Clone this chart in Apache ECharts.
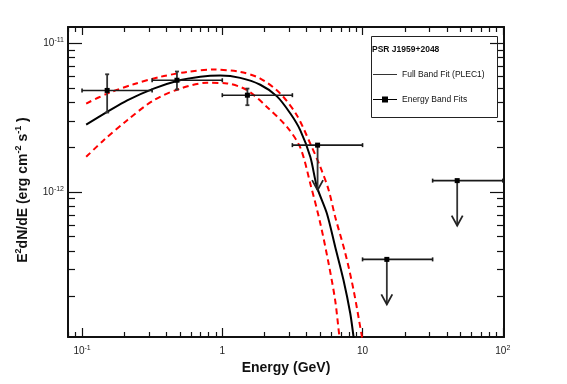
<!DOCTYPE html>
<html><head><meta charset="utf-8">
<script src="https://cdn.jsdelivr.net/npm/echarts@6/dist/echarts.min.js"></script>
<style>html,body{margin:0;padding:0;background:#fff}#c{width:567px;height:384px}</style>
</head><body><div id="c"></div>
<script>
// ---- tick values ----
const xMajorTicks = [0.1, 1, 10, 100];
const xMinorTicks = [0.08, 0.09, 0.2, 0.3, 0.4, 0.5, 0.6, 0.7, 0.8, 0.9, 2, 3, 4, 5, 6, 7, 8, 9, 20, 30, 40, 50, 60, 70, 80, 90];
const yMajorTicks = [1e-12, 1e-11];
const yMinorTicks = [2e-13, 3e-13, 4e-13, 5e-13, 6e-13, 7e-13, 8e-13, 9e-13, 2e-12, 3e-12, 4e-12, 5e-12, 6e-12, 7e-12, 8e-12, 9e-12];

// ---- full band fit (PLEC1) ----
const fitEnergy = [0.107, 0.151, 0.21, 0.324, 0.475, 0.697, 0.968, 1.343, 1.866, 2.455, 3.05, 3.60, 4.24, 4.73, 5.57, 6.38, 7.32, 8.17, 8.63, 8.87];
const fitFlux = [2.83e-12, 3.44e-12, 4.12e-12, 4.94e-12, 5.56e-12, 5.93e-12, 6.04e-12, 5.83e-12, 5.24e-12, 4.38e-12, 3.37e-12, 2.59e-12, 1.72e-12, 1.08e-12, 7.16e-13, 4.28e-13, 2.55e-13, 1.53e-13, 1.06e-13, 8.7e-14];

// ---- upper / lower error band of the fit ----
const bandUpperEnergy = [0.107, 0.151, 0.233, 0.361, 0.560, 0.867, 1.343, 1.866, 2.59, 3.40, 4.24, 5.00, 5.73, 6.38, 7.54, 8.63, 9.91, 10.3];
const bandUpperFlux = [3.92e-12, 4.57e-12, 5.28e-12, 5.92e-12, 6.39e-12, 6.63e-12, 6.39e-12, 5.77e-12, 4.57e-12, 3.27e-12, 2.11e-12, 1.47e-12, 1.03e-12, 6.8e-13, 3.86e-13, 2.19e-13, 1.06e-13, 8.7e-14];
const bandLowerEnergy = [0.107, 0.1426, 0.21, 0.324, 0.502, 0.778, 1.08, 1.50, 2.08, 2.89, 3.60, 4.30, 5.00, 5.73, 6.38, 6.85, 7.11];
const bandLowerFlux = [1.72e-12, 2.22e-12, 3.03e-12, 4.12e-12, 4.94e-12, 5.40e-12, 5.35e-12, 4.82e-12, 3.72e-12, 2.73e-12, 1.98e-12, 1.08e-12, 6.14e-13, 3.30e-13, 1.87e-13, 1.06e-13, 8.7e-14];

// ---- energy band fits ----
const pointEnergy = [0.151, 0.475, 1.51, 4.78, 14.9, 47.3];
const pointELow = [0.1, 0.316, 1.0, 3.16, 10, 31.6];
const pointEHigh = [0.316, 1.0, 3.16, 10, 31.6, 100];
const pointFlux = [4.8e-12, 5.62e-12, 4.46e-12, 2.06e-12, 3.52e-13, 1.19e-12];
const pointFluxLow = [3.41e-12, 4.87e-12, 3.82e-12, 2.06e-12, 3.52e-13, 1.19e-12];
const pointFluxHigh = [6.16e-12, 6.43e-12, 4.94e-12, 2.06e-12, 3.52e-13, 1.19e-12];
const pointUpperLimit = [0, 0, 0, 1, 1, 1];

const X_MIN = 0.0794, X_MAX = 102;
const Y_MIN = 1.06e-13, Y_MAX = 1.28e-11;
const FONT = 'Liberation Sans';

function zip(a, b) { return a.map((v, i) => [v, b[i]]); }
const pointData = pointEnergy.map((e, i) => [e, pointFlux[i], pointELow[i], pointEHigh[i], pointFluxLow[i], pointFluxHigh[i], pointUpperLimit[i]]);

const richLabel = {
  b: { fontFamily: FONT, fontSize: 10, color: '#222', lineHeight: 13, verticalAlign: 'middle' },
  s: { fontFamily: FONT, fontSize: 7, color: '#222', lineHeight: 7, verticalAlign: 'top' }
};
function expLabel(v) {
  const p = Math.round(Math.log10(v));
  if (p === 0) return '{b|1}';
  if (p === 1) return '{b|10}';
  return '{b|10}{s|' + p + '}';
}

function logAxis(base, extra) {
  return Object.assign({
    type: 'log', logBase: 10, splitLine: { show: false }, minorTick: { show: false },
    axisLine: { show: false }, axisLabel: { show: false }
  }, base, extra);
}

const axisLineStyle = { show: true, onZero: false, lineStyle: { color: '#111', width: 2 } };
const tickStyle = { color: '#111', width: 1.2 };

const chart = echarts.init(document.getElementById('c'), null, { renderer: 'canvas' });
chart.setOption({
  animation: false,
  backgroundColor: '#fff',
  grid: { left: 68, right: 63, top: 27, bottom: 47 },
  xAxis: [
    logAxis({ min: X_MIN, max: X_MAX }, {
      position: 'bottom', axisLine: axisLineStyle,
      axisTick: { show: true, inside: true, length: 9, lineStyle: tickStyle, customValues: xMajorTicks },
      axisLabel: { show: true, margin: 8, customValues: xMajorTicks, formatter: expLabel, rich: richLabel },
      name: 'Energy (GeV)', nameLocation: 'middle', nameGap: 23,
      nameTextStyle: { fontFamily: FONT, fontSize: 14, fontWeight: 'bold', color: '#111' }
    }),
    logAxis({ min: X_MIN, max: X_MAX }, {
      position: 'bottom',
      axisTick: { show: true, inside: true, length: 5, lineStyle: tickStyle, customValues: xMinorTicks }
    }),
    logAxis({ min: X_MIN, max: X_MAX }, {
      position: 'top', axisLine: axisLineStyle,
      axisTick: { show: true, inside: true, length: 8, lineStyle: tickStyle, customValues: xMajorTicks }
    }),
    logAxis({ min: X_MIN, max: X_MAX }, {
      position: 'top',
      axisTick: { show: true, inside: true, length: 5, lineStyle: tickStyle, customValues: xMinorTicks }
    })
  ],
  yAxis: [
    logAxis({ min: Y_MIN, max: Y_MAX }, {
      position: 'left', axisLine: axisLineStyle,
      axisTick: { show: true, inside: true, length: 14, lineStyle: tickStyle, customValues: yMajorTicks },
      axisLabel: { show: true, margin: 4, customValues: yMajorTicks, formatter: expLabel, rich: richLabel },
      name: '{b|E}{s|2}{b|dN/dE (erg cm}{s|-2}{b| s}{s|-1}{b| )}', nameLocation: 'middle', nameGap: 36,
      nameTextStyle: {
        fontFamily: FONT, fontSize: 14, fontWeight: 'bold', color: '#111', padding: [0, 16, 0, 0],
        rich: {
          b: { fontFamily: FONT, fontSize: 14, fontWeight: 'bold', color: '#111', lineHeight: 18, verticalAlign: 'middle' },
          s: { fontFamily: FONT, fontSize: 9, fontWeight: 'bold', color: '#111', lineHeight: 9, verticalAlign: 'top' }
        }
      }
    }),
    logAxis({ min: Y_MIN, max: Y_MAX }, {
      position: 'left',
      axisTick: { show: true, inside: true, length: 7, lineStyle: tickStyle, customValues: yMinorTicks }
    }),
    logAxis({ min: Y_MIN, max: Y_MAX }, {
      position: 'right', axisLine: axisLineStyle,
      axisTick: { show: true, inside: true, length: 14, lineStyle: tickStyle, customValues: yMajorTicks }
    }),
    logAxis({ min: Y_MIN, max: Y_MAX }, {
      position: 'right',
      axisTick: { show: true, inside: true, length: 7, lineStyle: tickStyle, customValues: yMinorTicks }
    })
  ],
  legend: {
    orient: 'vertical', left: 373, top: 70, padding: 0, itemWidth: 24, itemHeight: 8, itemGap: 16,
    selectedMode: false,
    textStyle: { fontFamily: FONT, fontSize: 8.5, color: '#111' },
    data: [
      { name: 'Full Band Fit (PLEC1)', icon: 'path://M0,3.6H24V4.4H0Z', itemStyle: { color: '#000' } },
      { name: 'Energy Band Fits', icon: 'path://M0,3.5H24V4.5H0Z M9,1H15V7H9Z', itemStyle: { color: '#000' } }
    ]
  },
  graphic: [
    { type: 'rect', left: 369, top: 34, z: 10, shape: { width: 126, height: 81 }, style: { fill: 'none', stroke: '#222', lineWidth: 1 } },
    { type: 'text', left: 372, top: 45, z: 10, style: { text: 'PSR J1959+2048', fontFamily: FONT, fontSize: 8.5, fontWeight: 'bold', fill: '#111' } }
  ],
  series: [
    {
      name: 'Fit upper bound', type: 'line', data: zip(bandUpperEnergy, bandUpperFlux), symbol: 'none', smooth: 0.3,
      lineStyle: { color: '#ff0000', width: 2, type: [6, 4] }, z: 2
    },
    {
      name: 'Fit lower bound', type: 'line', data: zip(bandLowerEnergy, bandLowerFlux), symbol: 'none', smooth: 0.3,
      lineStyle: { color: '#ff0000', width: 2, type: [6, 4] }, z: 2
    },
    {
      name: 'Full Band Fit (PLEC1)', type: 'line', data: zip(fitEnergy, fitFlux), symbol: 'none', smooth: 0.3,
      itemStyle: { color: '#000' }, lineStyle: { color: '#000', width: 2 }, z: 3
    },
    {
      name: 'Energy Band Fits', type: 'custom', data: pointData, z: 4,
      itemStyle: { color: '#000' },
      encode: { x: 0, y: 1 },
      renderItem: function (params, api) {
        const E = api.value(0), F = api.value(1), lo = api.value(2), hi = api.value(3);
        const flo = api.value(4), fhi = api.value(5), ul = api.value(6);
        const c = api.coord([E, F]);
        const l = api.coord([lo, F]), r = api.coord([hi, F]);
        const st = { stroke: '#1a1a1a', lineWidth: 1.6 };
        const ch = [
          { type: 'line', shape: { x1: l[0], y1: l[1], x2: r[0], y2: r[1] }, style: st },
          { type: 'line', shape: { x1: l[0], y1: l[1] - 2, x2: l[0], y2: l[1] + 2 }, style: st },
          { type: 'line', shape: { x1: r[0], y1: r[1] - 2, x2: r[0], y2: r[1] + 2 }, style: st }
        ];
        const vs = { stroke: '#333', lineWidth: 1.8 };
        if (ul) {
          ch.push({ type: 'line', shape: { x1: c[0], y1: c[1], x2: c[0], y2: c[1] + 45 }, style: vs });
          ch.push({ type: 'polyline', shape: { points: [[c[0] - 5.5, c[1] + 35], [c[0], c[1] + 45], [c[0] + 5.5, c[1] + 35]] }, style: { stroke: '#222', lineWidth: 1.8, fill: 'none' } });
        } else {
          const t = api.coord([E, fhi]), b = api.coord([E, flo]);
          ch.push({ type: 'line', shape: { x1: t[0], y1: t[1], x2: b[0], y2: b[1] }, style: vs });
          ch.push({ type: 'line', shape: { x1: t[0] - 2, y1: t[1], x2: t[0] + 2, y2: t[1] }, style: vs });
          ch.push({ type: 'line', shape: { x1: b[0] - 2, y1: b[1], x2: b[0] + 2, y2: b[1] }, style: vs });
        }
        ch.push({ type: 'rect', shape: { x: c[0] - 2.5, y: c[1] - 2.5, width: 5, height: 5 }, style: { fill: '#000' } });
        return { type: 'group', children: ch };
      }
    }
  ]
});
</script>
</body></html>
